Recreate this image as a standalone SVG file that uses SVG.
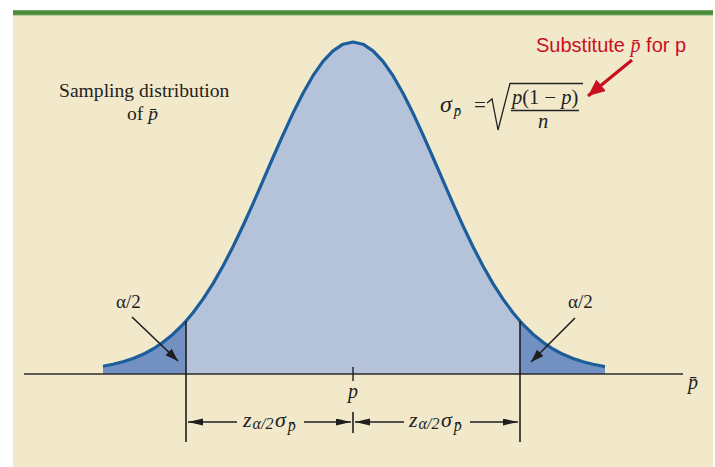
<svg xmlns="http://www.w3.org/2000/svg" width="715" height="467" viewBox="0 0 715 467">
<style>
.serif{font-family:"Liberation Serif","Times New Roman",serif;fill:#222}
.it{font-style:italic}
.ax{stroke:#2a2a2a;stroke-width:1.5;fill:none}
.curve{fill:none;stroke:#1b5e9b;stroke-width:3.2;stroke-linejoin:round}
.blk{stroke:#1e1e1e;stroke-width:1.6;fill:none}
</style>
<defs>
<marker id="ah" markerUnits="userSpaceOnUse" markerWidth="14" markerHeight="10" refX="13" refY="4.5" orient="auto"><path d="M0,0 L13,4.5 L0,9 z" fill="#1e1e1e"/></marker>
<marker id="dim" markerUnits="userSpaceOnUse" markerWidth="16" markerHeight="8" refX="15" refY="3.5" orient="auto"><path d="M0,0 L15,3.5 L0,7 z" fill="#1e1e1e"/></marker>
<marker id="red" markerUnits="userSpaceOnUse" markerWidth="18" markerHeight="16" refX="17" refY="7.5" orient="auto"><path d="M0,0 L17,7.5 L0,15 z" fill="#c8101e"/></marker>
</defs>
<rect x="13" y="10" width="700" height="457" fill="#f2e9cb"/>
<rect x="13" y="10" width="700" height="5.5" fill="#7db26c"/>
<rect x="13" y="10.8" width="700" height="3.9" fill="#4a8c3c"/>

<g id="distribution">
<path d="M186,374 L186,321.1 L193,312.7 L203,299.1 L213,283.6 L223,266 L233,246.7 L243,225.8 L253,203.7 L263,180.7 L273,157.5 L283,134.8 L293,113.1 L303,93.2 L313,75.7 L323,61.4 L333,50.8 L343,44.2 L353,42 L363,44.2 L373,50.8 L383,61.4 L393,75.7 L403,93.2 L413,113.1 L423,134.8 L433,157.5 L443,180.7 L453,203.7 L463,225.8 L473,246.7 L483,266 L493,283.6 L503,299.1 L513,312.7 L520,321.1 L520,374 Z" fill="#b4c2da"/>
<path d="M103,374 L103,366.2 L113,364.3 L123,361.8 L133,358.5 L143,354.3 L153,349 L163,342.3 L173,334.2 L183,324.4 L186,321.1 L186,374 Z" fill="#7290c2"/>
<path d="M520,374 L520,321.1 L523,324.4 L533,334.2 L543,342.3 L553,349 L563,354.3 L573,358.5 L583,361.8 L593,364.3 L603,366.2 L605,366.6 L605,374 Z" fill="#7290c2"/>
<path class="curve" d="M103,366.2 L113,364.3 L123,361.8 L133,358.5 L143,354.3 L153,349 L163,342.3 L173,334.2 L183,324.4 L186,321.1 L193,312.7 L203,299.1 L213,283.6 L223,266 L233,246.7 L243,225.8 L253,203.7 L263,180.7 L273,157.5 L283,134.8 L293,113.1 L303,93.2 L313,75.7 L323,61.4 L333,50.8 L343,44.2 L353,42 L363,44.2 L373,50.8 L383,61.4 L393,75.7 L403,93.2 L413,113.1 L423,134.8 L433,157.5 L443,180.7 L453,203.7 L463,225.8 L473,246.7 L483,266 L493,283.6 L503,299.1 L513,312.7 L520,321.1 L523,324.4 L533,334.2 L543,342.3 L553,349 L563,354.3 L573,358.5 L583,361.8 L593,364.3 L603,366.2 L605,366.6"/>
</g>

<g id="axis">
<line class="ax" x1="24" y1="374" x2="683" y2="374"/>
<line class="ax" x1="353" y1="367" x2="353" y2="381"/>
<text class="serif it" x="688" y="389" font-size="20">p̄</text>
<text class="serif it" x="348" y="398" font-size="20">p</text>
</g>

<g id="connectors">
<line class="blk" x1="186" y1="321" x2="186" y2="442"/>
<line class="blk" x1="520" y1="321" x2="520" y2="442"/>
<line class="blk" x1="353" y1="412" x2="353" y2="433"/>
<line class="blk" x1="237" y1="422" x2="188" y2="422" marker-end="url(#dim)"/>
<line class="blk" x1="304" y1="422" x2="351" y2="422" marker-end="url(#dim)"/>
<line class="blk" x1="404" y1="422" x2="355" y2="422" marker-end="url(#dim)"/>
<line class="blk" x1="470" y1="422" x2="518" y2="422" marker-end="url(#dim)"/>
<line class="blk" x1="132" y1="317" x2="178" y2="361" marker-end="url(#ah)"/>
<line class="blk" x1="575" y1="318" x2="531" y2="362" marker-end="url(#ah)"/>
<line x1="632" y1="60" x2="588" y2="96" stroke="#c8101e" stroke-width="3.2" marker-end="url(#red)"/>
</g>

<g id="dim-left">
<text class="serif it" x="243" y="427" font-size="22">z<tspan font-size="16" dy="2" dx="1">α/2</tspan><tspan dy="-2" dx="1.5">σ</tspan><tspan font-size="16" dy="4" dx="2">p̄</tspan></text>
</g>
<g id="dim-right">
<text class="serif it" x="409" y="427" font-size="22">z<tspan font-size="16" dy="2" dx="1">α/2</tspan><tspan dy="-2" dx="1.5">σ</tspan><tspan font-size="16" dy="4" dx="2">p̄</tspan></text>
</g>

<g id="alpha-left"><text class="serif" x="116" y="308" font-size="19">α/2</text></g>
<g id="alpha-right"><text class="serif" x="568" y="308" font-size="19">α/2</text></g>

<g id="label-sampling">
<text class="serif" x="59" y="97" font-size="19.6">Sampling distribution</text>
<text class="serif" x="127" y="120" font-size="19.6">of <tspan font-style="italic">p̄</tspan></text>
</g>

<g id="formula">
<text class="serif it" x="440" y="112" font-size="24">σ<tspan font-size="15" dy="4" dx="2">p̄</tspan></text>
<text class="serif" x="474" y="112" font-size="21">=</text>
<path d="M487,103 L492,99 L498,130 L510,83.5 L583,83.5" fill="none" stroke="#222" stroke-width="1.3"/>
<text class="serif it" x="512" y="104" font-size="20.5">p<tspan font-style="normal">(1 − </tspan>p<tspan font-style="normal">)</tspan></text>
<line x1="511" y1="110.5" x2="579" y2="110.5" stroke="#222" stroke-width="1.3"/>
<text class="serif it" x="538" y="128" font-size="20.5">n</text>
</g>

<g id="note">
<text x="536" y="52" font-size="20" fill="#c8101e" font-family="'Liberation Sans','Open Sans',sans-serif">Substitute <tspan font-family="'Liberation Serif',serif" font-style="italic">p̄</tspan> for p</text>
</g>
</svg>
